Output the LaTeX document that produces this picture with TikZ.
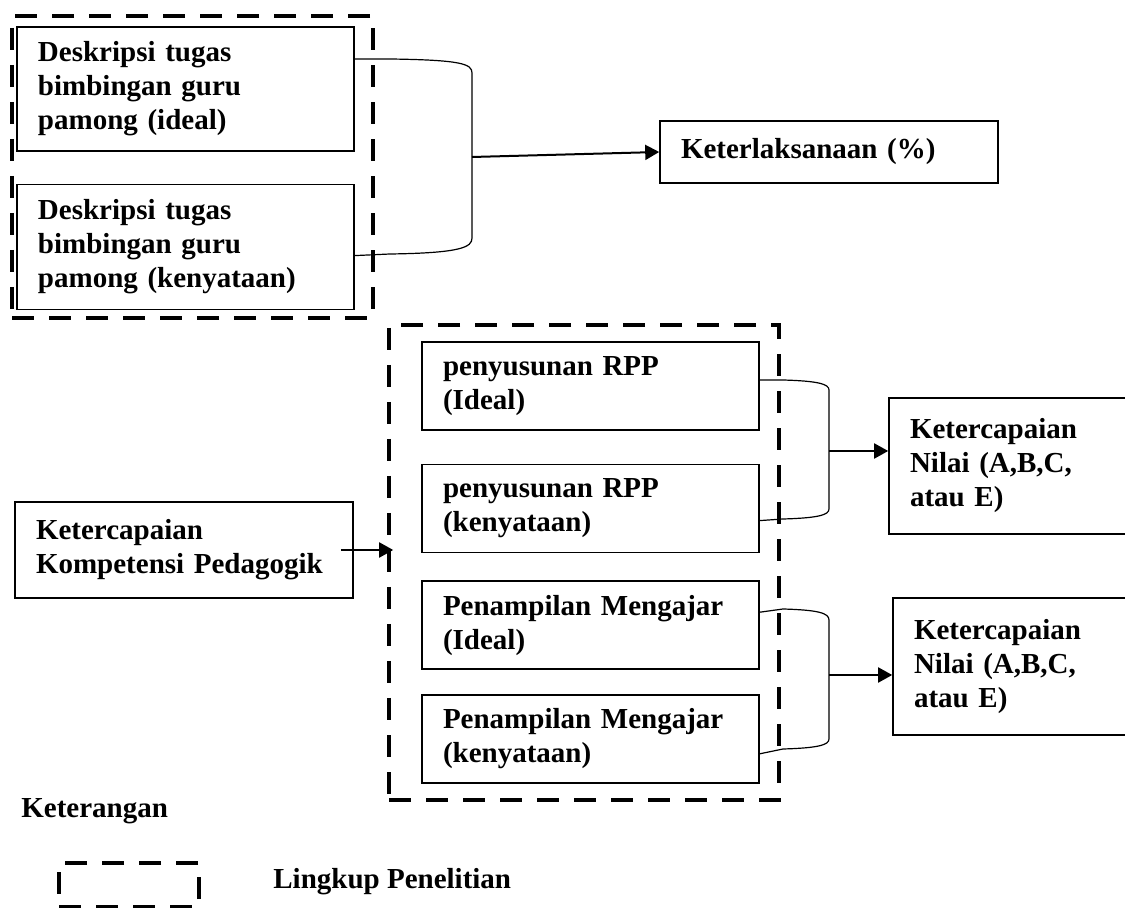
\documentclass[tikz,border=0pt]{standalone}
\usepackage{fontspec}
\setmainfont{Liberation Serif}
\usetikzlibrary{positioning,arrows.meta}

\begin{document}
\begin{tikzpicture}[x=0.5pt,y=-0.5pt,
	every node/.style={font=\bfseries\fontsize{14.5}{17}\selectfont},
	box/.style={draw, line width=0.8pt, align=left, inner xsep=10.5pt, text width=#1},
	lingkup/.style={draw, line width=1.8pt, dash pattern=on 11pt off 7.5pt, inner sep=0pt},
	brace/.style={line width=0.6pt},
	arrow/.style={line width=1pt, -{Triangle[length=7pt,width=7.5pt]}}]
	\useasboundingbox (0,0) rectangle (1125,908);

	% lingkup penelitian
	\node[lingkup, minimum width=180.5pt, minimum height=151pt] (l1) at (192.5,167) {};
	\node[lingkup, minimum width=195pt, minimum height=237.5pt] (l2) at (584,562.5) {};

	\node[box=147.5pt, minimum height=62pt] (di) at (185.5,89) {Deskripsi tugas\\bimbingan guru\\pamong (ideal)};
	\node[box=147.5pt, minimum height=62.5pt] (dk) [below=16pt of di] {Deskripsi tugas\\bimbingan guru\\pamong (kenyataan)};
	\node[box=148pt, minimum height=31pt] (laks) at (829,152) {Keterlaksanaan (\%)};

	\node[box=147.5pt, minimum height=44pt] (r1) at (590.5,386) {penyusunan RPP\\(Ideal)};
	\node[box=147.5pt, minimum height=44pt] (r2) [below=16.5pt of r1] {penyusunan RPP\\(kenyataan)};
	\node[box=147.5pt, minimum height=44pt] (r3) [below=13.5pt of r2] {Penampilan Mengajar\\(Ideal)};
	\node[box=147.5pt, minimum height=44pt] (r4) [below=12pt of r3] {Penampilan Mengajar\\(kenyataan)};

	\node[box=148pt, minimum height=48pt] (kp) at (184,550) {Ketercapaian\\Kompetensi Pedagogik};
	\node[box=104pt, minimum height=68pt] (n1) at (1014,466) {Ketercapaian\\Nilai (A,B,C,\\atau E)};
	\node[box=104pt, minimum height=68.5pt] (n2) at (1018,666.5) {Ketercapaian\\Nilai (A,B,C,\\atau E)};

	\coordinate (m1) at (472,157);
	\coordinate (m2) at (829,451);
	\coordinate (m3) at (829,675);

	\draw[brace] ([yshift=15pt]di.east) -- (390,59) .. controls (462,60) and (472,64) .. (472,73) -- (472,238)
		.. controls (472,247) and (462,253) .. (390,254) -- ([yshift=-4.25pt]dk.east);
	\draw[brace] ([yshift=3pt]r1.east) -- (783,380) .. controls (818,381) and (829,384) .. (829,390) -- (829,509)
		.. controls (829,515) and (818,518) .. (783,519) -- ([yshift=-6pt]r2.east);
	\draw[brace] ([yshift=6.5pt]r3.east) -- (783,609) .. controls (818,610) and (829,613) .. (829,620) -- (829,739)
		.. controls (829,745) and (818,748) .. (783,749) -- ([yshift=-7.5pt]r4.east);

	\draw[arrow] (m1) -- (laks.west);
	\draw[arrow] (m2) -- (m2 -| n1.west);
	\draw[arrow] (m3) -- (m3 -| n2.west);
	\draw[arrow] ([xshift=-6.5pt]kp.east) -- ([xshift=3pt]kp.east -| l2.west);

	% keterangan
	\node[anchor=base west, inner sep=0pt] (ket) at (21,817) {Keterangan};
	\node[lingkup, minimum width=70pt, minimum height=22pt] (leg) at (129,885) {};
	\node[anchor=base west, inner sep=0pt] (legtxt) at (273,888) {Lingkup Penelitian};
\end{tikzpicture}
\end{document}
